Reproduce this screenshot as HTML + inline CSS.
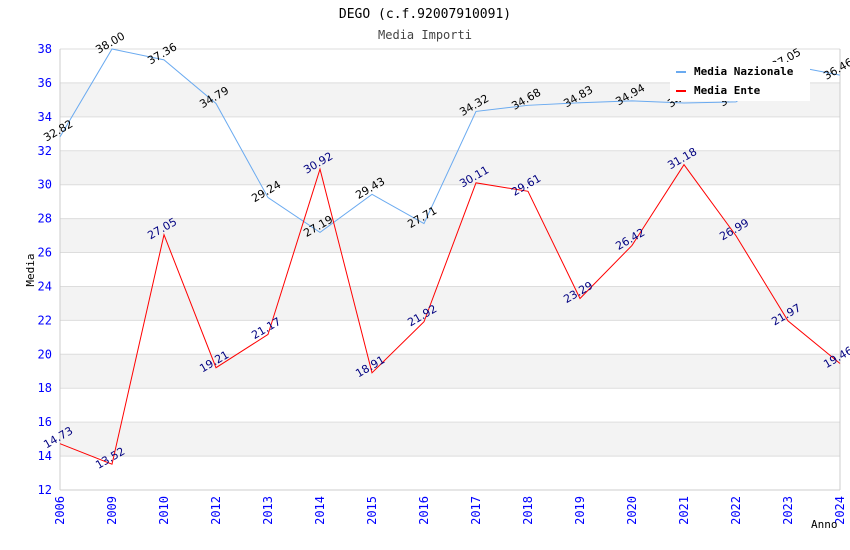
<!DOCTYPE html>
<html><head><meta charset="utf-8"><style>body{margin:0;background:#fff}svg{display:block;font-family:"DejaVu Sans Mono","Liberation Mono",monospace}</style></head>
<body>
<svg id="c" width="850" height="550"></svg>
<script>
const categories=["2006","2009","2010","2012","2013","2014","2015","2016","2017","2018","2019","2020","2021","2022","2023","2024"];
const nazionale=[32.82,38.00,37.36,34.79,29.24,27.19,29.43,27.71,34.32,34.68,34.83,34.94,34.82,34.88,37.05,36.46];
const ente=[14.73,13.52,27.05,19.21,21.17,30.92,18.91,21.92,30.11,29.61,23.29,26.42,31.18,26.99,21.97,19.46];
const yTicks=[12,14,16,18,20,22,24,26,28,30,32,34,36,38];
const NS="http://www.w3.org/2000/svg",svg=document.getElementById('c');
const L=60,R=840,T=49,B=490,ymin=12,ymax=38;
const x=i=>L+i*(R-L)/(categories.length-1);
const y=v=>B-(v-ymin)/(ymax-ymin)*(B-T);
function el(t,a,p){const e=document.createElementNS(NS,t);for(const k in a)e.setAttribute(k,a[k]);(p||svg).appendChild(e);return e;}
for(let i=0;i<yTicks.length-1;i++){
 const r=el('rect',{x:L,y:y(yTicks[i+1]),width:R-L,height:y(yTicks[i])-y(yTicks[i+1]),fill:i%2===1?'#f3f3f3':'#fff'});
 
 
}
yTicks.forEach(v=>{
 const g=el('line',{x1:L,x2:R,y1:y(v),y2:y(v),stroke:'#ddd'});
 
 
 const t=el('text',{x:L-8,y:y(v)+4,'text-anchor':'end','font-size':12,fill:'#00f'});t.textContent=v;
 
 
});
el('line',{x1:L,x2:L,y1:T,y2:B,stroke:'#ccc'});el('line',{x1:R,x2:R,y1:T,y2:B,stroke:'#ccc'});el('line',{x1:L,x2:R,y1:B,y2:B,stroke:'#ccc'});
categories.forEach((c,i)=>{
 const t=el('text',{transform:`translate(${x(i)+4},${B+6}) rotate(-90)`,'text-anchor':'end','font-size':12,fill:'#00f'});t.textContent=c;
 
 
});
function series(d,col,lab,name){
 const p=el('polyline',{points:d.map((v,i)=>x(i)+','+y(v)).join(' '),fill:'none',stroke:col,'stroke-width':1});
 
 
 d.forEach((v,i)=>{
  const t=el('text',{transform:`translate(${x(i)},${y(v)-3}) rotate(-30)`,'text-anchor':'middle','font-size':11,fill:lab,'font-family':'DejaVu Sans,sans-serif'});t.textContent=v.toFixed(2);
  
  
 });
}
series(nazionale,'#6aaaf0','#000','line-nazionale');
series(ente,'#f00','#000080','line-ente');
const lg=el('g',{});


el('rect',{x:670,y:62,width:140,height:39,fill:'#fff'},lg);
el('rect',{x:676,y:71,width:10,height:2,fill:'#6aaaf0'},lg);
el('rect',{x:676,y:90,width:10,height:2,fill:'#f00'},lg);
let t1=el('text',{x:694,y:75,'font-size':11,'font-weight':'bold'},lg);t1.textContent='Media Nazionale';
let t2=el('text',{x:694,y:94,'font-size':11,'font-weight':'bold'},lg);t2.textContent='Media Ente';
let ti=el('text',{x:425,y:18,'text-anchor':'middle','font-size':13});ti.textContent='DEGO (c.f.92007910091)';

let st=el('text',{x:425,y:39,'text-anchor':'middle','font-size':12,fill:'#444'});st.textContent='Media Importi';

let yt=el('text',{transform:'translate(34,270) rotate(-90)','text-anchor':'middle','font-size':11});yt.textContent='Media';

let xt=el('text',{x:811,y:528,'font-size':11});xt.textContent='Anno';

</script>
</body></html>
